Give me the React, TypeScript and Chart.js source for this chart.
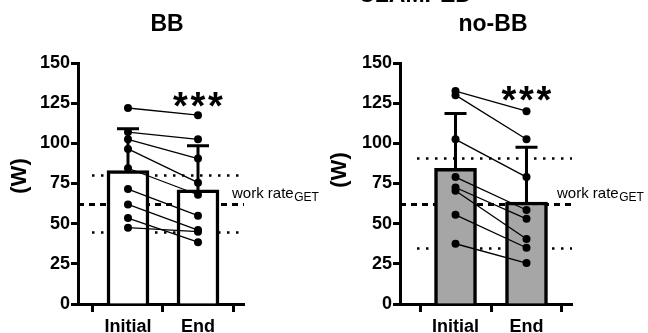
import React, { useEffect, useRef } from "react";
import { Chart, registerables } from "chart.js";
Chart.register(...registerables);

// ---------- data ----------
const categories = ["Initial", "End"];
const yTickStep = 25;
const yMin = 0;
const yMax = 150;

const bbMeans = [83, 71];
const bbSD = [26, 27.5];
const bbInitial = [122, 107, 102.5, 96.5, 84.5, 71.5, 62, 53.5, 47.5];
const bbEnd = [117.5, 102.5, 90.5, 75.5, 68, 55, 46, 38.5, 45];
const bbDotted = [80, 44.5];
const bbDashed = 62;

const noBBMeans = [84.5, 63.5];
const noBBSD = [34, 34];
const noBBInitial = [132.5, 130, 102.5, 79, 72.5, 70.5, 55.5, 37.5];
const noBBEnd = [120, 102.5, 79, 58.5, 53, 40.5, 35, 25.5];
const noBBDotted = [90.5, 34.5];
const noBBDashed = 62;

const FONT = 'Arial, "Liberation Sans", Helvetica, sans-serif';

type PanelCfg = {
  title: string;
  means: number[];
  sd: number[];
  initial: number[];
  end: number[];
  dotted: number[];
  dashed: number;
  fill: string;
  area: { left: number; right: number; top: number; bottom: number };
  xRange: [number, number];
  dotStart: number;
  titleX: number;
  yTitle: [number, number];
  starsY: number;
  workX: number;
  clamped: boolean;
};

function makeChart(canvas: HTMLCanvasElement, p: PanelCfg) {
  const W = 648;
  const H = 333;
  const datasets: any[] = [
    {
      type: "bar",
      data: categories.map((_, i) => ({ x: i, y: p.means[i] })),
      backgroundColor: p.fill,
      borderColor: "#000",
      borderWidth: 3.5,
      barThickness: 42,
      order: 10,
    },
  ];
  p.initial.forEach((v, i) => {
    datasets.push({
      type: "line",
      data: [
        { x: 0, y: v },
        { x: 1, y: p.end[i] },
      ],
      borderColor: "#000",
      borderWidth: 1.3,
      pointRadius: 4,
      pointBorderWidth: 0,
      pointBackgroundColor: "#000",
      tension: 0,
      order: 0,
    });
  });

  const annot = {
    id: "annot",
    beforeDatasetsDraw(chart: any) {
      const ctx = chart.ctx;
      const y = chart.scales.y;
      const ca = chart.chartArea;
      ctx.save();
      ctx.strokeStyle = "#000";
      ctx.lineWidth = 3;
      ctx.setLineDash([6, 5]);
      const yd = y.getPixelForValue(p.dashed);
      ctx.beginPath();
      ctx.moveTo(ca.left, yd);
      ctx.lineTo(ca.right, yd);
      ctx.stroke();
      ctx.lineWidth = 2.5;
      ctx.setLineDash([2.5, 6.5]);
      p.dotted.forEach((v) => {
        const yy = y.getPixelForValue(v);
        ctx.beginPath();
        ctx.moveTo(ca.left + p.dotStart, yy);
        ctx.lineTo(ca.right, yy);
        ctx.stroke();
      });
      ctx.restore();
    },
    afterDatasetDraw(chart: any, args: any) {
      if (args.index !== 0) return;
      const ctx = chart.ctx;
      const x = chart.scales.x;
      const y = chart.scales.y;
      ctx.save();
      ctx.strokeStyle = "#000";
      ctx.lineWidth = 3;
      ctx.setLineDash([]);
      p.means.forEach((m, i) => {
        const px = x.getPixelForValue(i);
        const y0 = y.getPixelForValue(m);
        const y1 = y.getPixelForValue(m + p.sd[i]);
        ctx.beginPath();
        ctx.moveTo(px, y0);
        ctx.lineTo(px, y1);
        ctx.moveTo(px - 11, y1);
        ctx.lineTo(px + 11, y1);
        ctx.stroke();
      });
      ctx.restore();
    },
    afterDraw(chart: any) {
      const ctx = chart.ctx;
      const x = chart.scales.x;
      ctx.save();
      ctx.fillStyle = "#000";
      ctx.font = `bold 23px ${FONT}`;
      ctx.textAlign = "center";
      ctx.textBaseline = "alphabetic";
      ctx.fillText(p.title, p.titleX, 31);
      if (p.clamped) {
        ctx.fillText("CLAMPED", 415, 1.5);
      }
      ctx.save();
      ctx.translate(p.yTitle[0], p.yTitle[1]);
      ctx.rotate(-Math.PI / 2);
      ctx.font = `bold 22px ${FONT}`;
      ctx.textAlign = "center";
      ctx.textBaseline = "middle";
      ctx.fillText("(W)", 0, 0);
      ctx.restore();
      ctx.font = `bold 38px ${FONT}`;
      ctx.textAlign = "center";
      ctx.textBaseline = "alphabetic";
      const sx = x.getPixelForValue(1);
      [-17.5, 0, 17.5].forEach((d) => ctx.fillText("*", sx + d, p.starsY));
      ctx.textAlign = "left";
      ctx.font = `15px ${FONT}`;
      const t = "work rate";
      ctx.fillText(t, p.workX, 198);
      const w = ctx.measureText(t).width;
      ctx.font = `12px ${FONT}`;
      ctx.fillText("GET", p.workX + w + 0.5, 201);
      ctx.restore();
    },
  };

  return new Chart(canvas, {
    type: "bar",
    data: { datasets },
    plugins: [annot],
    options: {
      animation: false,
      responsive: false,
      devicePixelRatio: 1,
      layout: {
        padding: { left: 0, top: p.area.top, right: W - p.area.right, bottom: 0 },
      },
      plugins: { legend: { display: false }, tooltip: { enabled: false } },
      scales: {
        x: {
          type: "linear",
          min: p.xRange[0],
          max: p.xRange[1],
          offset: false,
          afterBuildTicks: (s: any) => {
            s.ticks = categories.map((_, i) => ({ value: i }));
          },
          afterFit: (s: any) => {
            s.height = H - p.area.bottom;
          },
          ticks: {
            color: "#000",
            font: { family: FONT, size: 18, weight: "bold" },
            padding: 4,
            maxRotation: 0,
            autoSkip: false,
            callback: (v: any) => categories[v] ?? "",
          },
          grid: {
            display: true,
            drawOnChartArea: false,
            drawTicks: true,
            tickLength: 8,
            tickWidth: 3,
            tickColor: "#000",
          },
          border: { display: true, color: "#000", width: 3 },
        },
        y: {
          min: yMin,
          max: yMax,
          afterFit: (s: any) => {
            s.width = p.area.left;
          },
          ticks: {
            stepSize: yTickStep,
            color: "#000",
            font: { family: FONT, size: 18, weight: "bold" },
            padding: 1,
          },
          grid: {
            display: true,
            drawOnChartArea: false,
            drawTicks: true,
            tickLength: 7,
            tickWidth: 3,
            tickColor: "#000",
          },
          border: { display: true, color: "#000", width: 3 },
        },
      },
    } as any,
  });
}

const panels: PanelCfg[] = [
  {
    title: "BB",
    means: bbMeans,
    sd: bbSD,
    initial: bbInitial,
    end: bbEnd,
    dotted: bbDotted,
    dashed: bbDashed,
    fill: "#ffffff",
    area: { left: 78, right: 244, top: 63, bottom: 304 },
    xRange: [-0.714, 1.657],
    dotStart: 14,
    titleX: 167,
    yTitle: [20, 176],
    starsY: 119,
    workX: 232,
    clamped: true,
  },
  {
    title: "no-BB",
    means: noBBMeans,
    sd: noBBSD,
    initial: noBBInitial,
    end: noBBEnd,
    dotted: noBBDotted,
    dashed: noBBDashed,
    fill: "#a6a6a6",
    area: { left: 400, right: 572, top: 63, bottom: 304 },
    xRange: [-0.782, 1.641],
    dotStart: 17,
    titleX: 493,
    yTitle: [340, 170],
    starsY: 113,
    workX: 557,
    clamped: false,
  },
];

function Panel({ cfg }: { cfg: PanelCfg }) {
  const ref = useRef<HTMLCanvasElement>(null);
  useEffect(() => {
    if (!ref.current) return;
    const c = makeChart(ref.current, cfg);
    return () => c.destroy();
  }, [cfg]);
  return (
    <canvas
      ref={ref}
      width={648}
      height={333}
      style={{ position: "absolute", left: 0, top: 0, width: 648, height: 333 }}
    />
  );
}

export default function App() {
  return (
    <div
      style={{
        position: "fixed",
        left: 0,
        top: 0,
        width: 648,
        height: 333,
        background: "#fff",
        overflow: "hidden",
      }}
    >
      {panels.map((p) => (
        <Panel key={p.title} cfg={p} />
      ))}
    </div>
  );
}
